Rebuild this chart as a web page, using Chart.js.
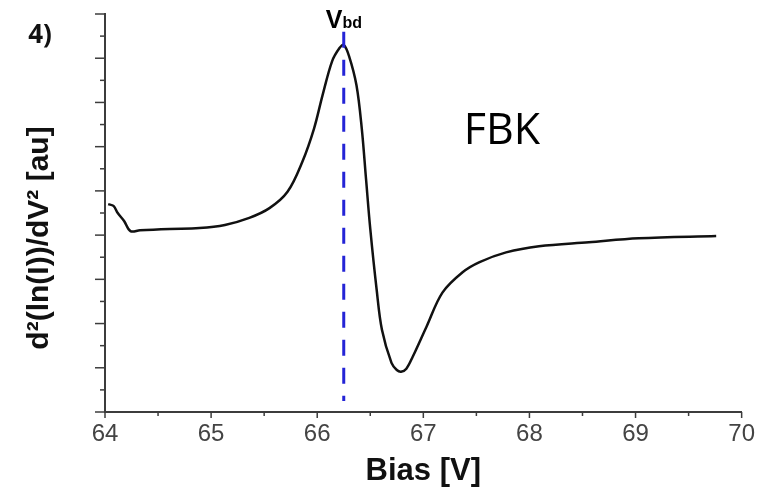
<!DOCTYPE html>
<html>
<head>
<meta charset="utf-8">
<script src="https://cdn.jsdelivr.net/npm/chart.js@4/dist/chart.umd.min.js"></script>
<style>
html,body{margin:0;padding:0;background:#fff;}
#wrap{position:relative;width:757px;height:490px;}
</style>
</head>
<body>
<div id="wrap"><canvas id="c" width="757" height="490"></canvas></div>
<script>
// Data
const biasV = [64.03,64.08,64.12,64.18,64.24,64.33,64.61,64.89,65.13,65.36,65.55,65.72,65.86,65.97,66.05,66.14,66.21,66.25,66.30,66.37,66.42,66.46,66.50,66.56,66.61,66.70,66.75,66.79,66.84,66.90,67.03,67.18,67.37,67.53,67.78,68.09,68.56,69.03,69.76];
const d2lnI = [4.70,4.66,4.50,4.32,4.09,4.11,4.14,4.16,4.23,4.39,4.61,4.98,5.66,6.41,7.16,7.93,8.23,8.30,8.05,7.39,6.41,5.27,4.14,2.77,1.86,1.11,0.95,0.91,0.98,1.25,1.93,2.70,3.16,3.39,3.61,3.75,3.84,3.93,3.98];
const vbd = 66.25;
const vbdLineY = [8.6, 0.25];
const xTickLabels = [64,65,66,67,68,69,70];

const curve = biasV.map((x,i)=>({x:x,y:d2lnI[i]}));
const vbdLine = vbdLineY.map(y=>({x:vbd,y:y}));

const AXIS = '#3c3c3c';

const tickPlugin = {
  id:'customTicks',
  afterDraw(chart){
    const ctx = chart.ctx;
    const xs = chart.scales.x, ys = chart.scales.y;
    const a = chart.chartArea;
    ctx.save();
    ctx.strokeStyle = AXIS;
    ctx.lineWidth = 1.5;
    ys.ticks.forEach(t=>{
      const p = ys.getPixelForValue(t.value);
      const len = Number.isInteger(Math.round(t.value*1000)/1000) ? 10 : 5;
      ctx.beginPath(); ctx.moveTo(a.left-len, p); ctx.lineTo(a.left, p); ctx.stroke();
    });
    xs.ticks.forEach(t=>{
      const p = xs.getPixelForValue(t.value);
      const len = Number.isInteger(Math.round(t.value*1000)/1000) ? 6 : 4;
      ctx.beginPath(); ctx.moveTo(p, a.bottom); ctx.lineTo(p, a.bottom+len); ctx.stroke();
    });
    // texts
    ctx.fillStyle = '#111';
    ctx.textBaseline = 'middle';
    ctx.textAlign = 'center';
    ctx.font = 'bold 26px "Open Sans", "Liberation Sans", Arial, sans-serif';
    ctx.fillText('4)', 40, 36);
    ctx.font = '43px "Open Sans", "Noto Sans", sans-serif';
    ctx.fillStyle = '#000';
    ctx.fillText('FBK', 502, 132);
    // Vbd label
    const vx = xs.getPixelForValue(vbd);
    ctx.textAlign = 'left';
    ctx.textBaseline = 'alphabetic';
    ctx.font = 'bold 25px "Liberation Sans", Arial, sans-serif';
    ctx.fillText('V', vx-18, 28);
    const vw = ctx.measureText('V').width;
    ctx.font = 'bold 16px "Liberation Sans", Arial, sans-serif';
    ctx.fillText('bd', vx-18+vw, 28);
    // y title
    ctx.save();
    ctx.translate(40, 238);
    ctx.rotate(-Math.PI/2);
    ctx.textAlign = 'center';
    ctx.textBaseline = 'middle';
    ctx.font = 'bold 30px "Liberation Sans", Arial, sans-serif';
    ctx.fillStyle = '#111';
    ctx.fillText('d\u00B2(ln(I))/dV\u00B2 [au]', 0, 0);
    ctx.restore();
    ctx.restore();
  }
};

new Chart(document.getElementById('c'), {
  type:'line',
  data:{
    datasets:[
      {data:vbdLine, borderColor:'#2424d6', borderWidth:3, borderDash:[16,12], pointRadius:0, tension:0},
      {data:curve, borderColor:'#111', borderWidth:2.5, pointRadius:0, tension:0.35}
    ]
  },
  options:{
    responsive:false,
    animation:false,
    layout:{padding:{left:0,right:14,top:14,bottom:0}},
    plugins:{legend:{display:false}, tooltip:{enabled:false}},
    scales:{
      x:{
        type:'linear', min:64, max:70,
        grid:{display:true, drawOnChartArea:false, tickLength:6, tickColor:'transparent'},
        border:{display:true, color:AXIS, width:2},
        ticks:{stepSize:0.5, autoSkip:false, maxRotation:0, padding:2, color:'#444',
          font:{family:'"Liberation Sans", Arial, sans-serif', size:24},
          callback:(v)=> xTickLabels.includes(v) ? String(v) : ''},
        title:{display:true, text:'Bias [V]', color:'#111', padding:{top:0,bottom:0},
          font:{family:'"Liberation Sans", Arial, sans-serif', size:31, weight:'bold'}},
        afterFit:(s)=>{ s.height = 78; }
      },
      y:{
        type:'linear', min:0, max:9,
        grid:{display:false},
        border:{display:true, color:AXIS, width:2},
        ticks:{display:false, stepSize:0.5},
        afterFit:(s)=>{ s.width = 105; }
      }
    }
  },
  plugins:[tickPlugin]
});
</script>
</body>
</html>
